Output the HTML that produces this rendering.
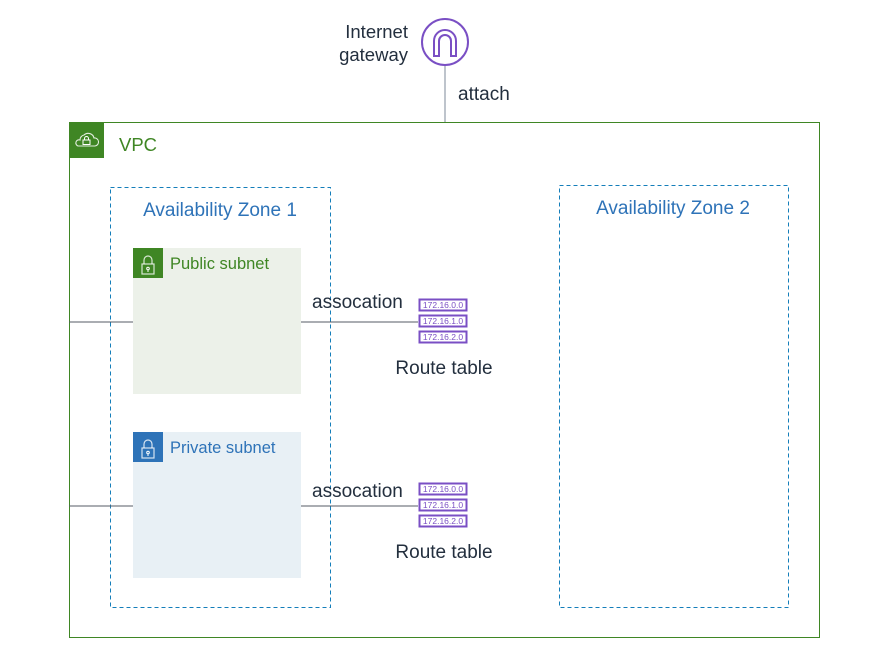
<!DOCTYPE html>
<html><head><meta charset="utf-8"><style>
html,body{margin:0;padding:0;background:#fff;}
svg{display:block;font-family:"Liberation Sans",Arial,sans-serif;}
</style></head><body>
<svg width="896" height="660" viewBox="0 0 896 660" xmlns="http://www.w3.org/2000/svg">
<defs>
<g id="rt">
  <rect x="0.5" y="0.5" width="47" height="11" fill="#fff" stroke="#7a4fc4" stroke-width="2"/>
  <text x="24" y="9" font-size="8.5" fill="#7a4fc4" text-anchor="middle">172.16.0.0</text>
  <rect x="0.5" y="16.5" width="47" height="11" fill="#fff" stroke="#7a4fc4" stroke-width="2"/>
  <text x="24" y="25" font-size="8.5" fill="#7a4fc4" text-anchor="middle">172.16.1.0</text>
  <rect x="0.5" y="32.5" width="47" height="11" fill="#fff" stroke="#7a4fc4" stroke-width="2"/>
  <text x="24" y="41" font-size="8.5" fill="#7a4fc4" text-anchor="middle">172.16.2.0</text>
</g>
<g id="lock">
  <rect x="-6" y="-1" width="12" height="10" fill="none" stroke="#fff" stroke-opacity="0.8" stroke-width="1.2"/>
  <path d="M-4,-1 V-5 A4,4 0 0 1 4,-5 V-1" fill="none" stroke="#fff" stroke-opacity="0.8" stroke-width="1.2"/>
  <circle cx="0" cy="3.5" r="1.3" fill="none" stroke="#fff" stroke-width="1"/>
  <line x1="0" y1="5" x2="0" y2="7" stroke="#fff" stroke-width="1"/>
</g>
</defs>

<circle cx="445" cy="42" r="23" fill="#fff" stroke="#7a4fc4" stroke-width="2"/>
<path d="M434,56 V41 A11,11 0 0 1 456,41 V56 H451 V41 A6,6 0 0 0 439,41 V56 Z" fill="none" stroke="#7a4fc4" stroke-width="2"/>
<text x="408" y="38" font-size="18.5" fill="#232f3e" text-anchor="end">Internet</text>
<text x="408" y="61" font-size="18.5" fill="#232f3e" text-anchor="end">gateway</text>
<line x1="445" y1="66" x2="445" y2="123" stroke="#7d8998" stroke-width="1"/>
<text x="458" y="100" font-size="19" fill="#232f3e">attach</text>

<rect x="69.5" y="122.5" width="750" height="515" fill="none" stroke="#3f8624" stroke-width="1"/>
<rect x="69" y="122" width="35" height="36" fill="#3f8624"/>
<path d="M78,146 H95 A4,4 0 0 0 94,138 A6,6 0 0 0 84,135 A5,5 0 0 0 80,140 A3,3 0 0 0 78,146 Z" fill="none" stroke="#fff" stroke-opacity="0.85" stroke-width="1.1"/>
<rect x="83" y="140" width="7" height="4.5" fill="none" stroke="#fff" stroke-width="1"/>
<path d="M84.5,140 V138.5 A2,2 0 0 1 88.5,138.5 V140" fill="none" stroke="#fff" stroke-width="1"/>
<text x="119" y="151" font-size="18.5" fill="#3f8624">VPC</text>

<rect x="110.5" y="187.5" width="220" height="420" fill="none" stroke="#147eba" stroke-width="1" stroke-dasharray="4,3"/>
<text x="220" y="216" font-size="19" fill="#2e73b8" text-anchor="middle">Availability Zone 1</text>
<rect x="559.5" y="185.5" width="229" height="422" fill="none" stroke="#147eba" stroke-width="1" stroke-dasharray="4,3"/>
<text x="673" y="214" font-size="19" fill="#2e73b8" text-anchor="middle">Availability Zone 2</text>

<rect x="133" y="248" width="168" height="146" fill="#ecf1e9"/>
<rect x="133" y="248" width="30" height="30" fill="#3f8624"/>
<use href="#lock" x="148" y="265"/>
<text x="170" y="269" font-size="16.5" fill="#3f8624">Public subnet</text>

<rect x="133" y="432" width="168" height="146" fill="#e8f0f5"/>
<rect x="133" y="432" width="30" height="30" fill="#2e73b8"/>
<use href="#lock" x="148" y="449"/>
<text x="170" y="453" font-size="16.5" fill="#2e73b8">Private subnet</text>

<line x1="69" y1="322" x2="133" y2="322" stroke="#545b64" stroke-width="1"/>
<line x1="69" y1="506" x2="133" y2="506" stroke="#545b64" stroke-width="1"/>
<line x1="301" y1="322" x2="418" y2="322" stroke="#545b64" stroke-width="1"/>
<line x1="301" y1="506" x2="418" y2="506" stroke="#545b64" stroke-width="1"/>
<text x="312" y="308" font-size="19" fill="#232f3e">assocation</text>
<text x="312" y="497" font-size="19" fill="#232f3e">assocation</text>

<use href="#rt" x="419" y="299"/>
<text x="444" y="374" font-size="19" fill="#232f3e" text-anchor="middle">Route table</text>
<use href="#rt" x="419" y="483"/>
<text x="444" y="558" font-size="19" fill="#232f3e" text-anchor="middle">Route table</text>
</svg>
</body></html>
